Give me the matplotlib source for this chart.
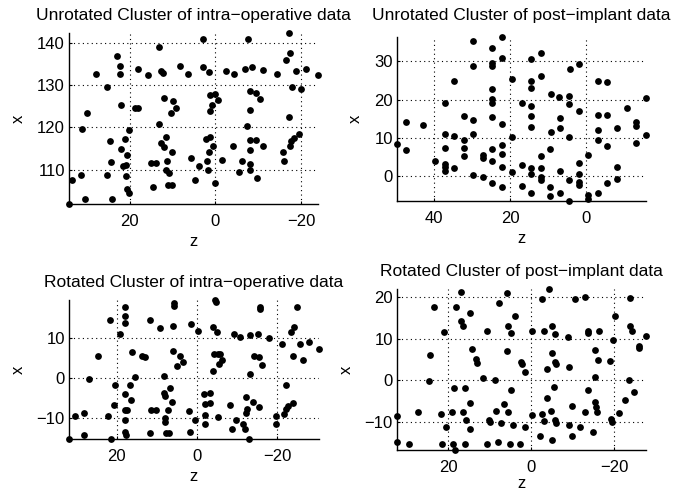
import numpy as np
import matplotlib
matplotlib.use("Agg")
import matplotlib.pyplot as plt

# ----------------------------
# Data (z, x)
# ----------------------------

z_unrot_intra = [34.1, 33.5, 31.2, 31.0, 30.4, 29.8, 27.9, 25.3, 25.2, 24.4, 24.6, 24.0,
                 22.9, 22.2, 22.2, 22.0, 22.1, 21.6, 20.9, 21.1, 20.9, 20.5, 20.5, 20.1,
                 20.1, 18.8, 18.1, 18.1, 15.8, 15.1, 13.9, 14.5, 13.1, 13.1, 12.6, 12.2,
                 12.6, 12.0, 11.9, 11.4, 11.2, 11.4, 10.9, 11.0, 10.1, 10.1, 10.4, 9.8,
                 9.2, 8.2, 6.3, 5.7, 4.8, 3.9, 3.0, 2.9, 2.3, 1.9, 1.7, 1.6,
                 1.3, 1.3, 1.3, 1.5, 0.8, 0.5, 0.2, 0.2, -0.6, -1.6, -2.4, -4.3,
                 -4.0, -5.5, -6.2, -6.8, -7.4, -7.6, -8.0, -8.1, -8.1, -8.1, -8.1, -8.1,
                 -8.5, -9.5, -9.4, -9.8, -10.3, -11.2, -11.1, -14.3, -15.7, -15.9, -16.5, -17.3,
                 -17.1, -17.1, -17.4, -17.7, -17.8, -18.2, -18.8, -19.4, -20.0, -21.2, -23.9]
x_unrot_intra = [101.9, 107.6, 108.8, 119.7, 103.1, 123.3, 132.6, 129.6, 108.8, 111.8, 116.7, 103.1,
                 136.8, 134.4, 132.6, 125.4, 115.0, 110.8, 111.0, 117.3, 108.4, 113.4, 105.4, 104.6,
                 119.5, 124.6, 124.6, 133.9, 132.3, 111.7, 111.7, 105.9, 138.9, 120.7, 133.4, 132.8,
                 116.3, 115.4, 126.9, 117.8, 112.0, 110.0, 109.2, 106.4, 106.4, 114.3, 123.3, 126.2,
                 124.6, 134.5, 132.6, 112.8, 107.6, 110.8, 134.2, 141.0, 117.3, 112.0, 110.0, 133.1,
                 127.6, 123.8, 117.8, 114.3, 125.2, 115.5, 127.8, 106.8, 126.4, 112.2, 133.3, 132.6,
                 115.5, 109.4, 112.0, 133.7, 120.4, 141.0, 124.0, 128.6, 117.1, 114.7, 111.4, 110.0,
                 134.2, 128.2, 117.1, 108.0, 126.8, 133.6, 115.7, 132.5, 114.3, 112.0, 136.0, 137.5,
                 142.3, 122.4, 115.5, 116.7, 129.6, 117.5, 133.3, 118.5, 129.0, 133.9, 132.4]

z_unrot_post = [49.6, 47.2, 47.2, 42.8, 39.7, 37.1, 37.1, 37.1, 37.1, 37.1, 37.1, 34.7,
                34.7, 34.7, 32.1, 32.1, 32.1, 32.1, 29.7, 29.7, 29.7, 29.7, 29.7, 27.0,
                27.0, 27.0, 24.7, 24.7, 24.7, 24.7, 24.7, 24.7, 24.7, 24.7, 24.7, 24.7,
                22.0, 22.0, 22.0, 22.0, 22.0, 22.0, 22.0, 19.6, 19.6, 19.6, 17.0, 17.0,
                17.0, 14.6, 14.6, 14.6, 14.6, 14.6, 14.6, 14.6, 14.6, 14.6, 12.0, 12.0,
                12.0, 12.0, 12.0, 12.0, 9.6, 9.6, 9.6, 9.4, 9.4, 7.2, 7.0, 7.0,
                7.0, 7.0, 4.5, 4.5, 4.5, 4.5, 4.4, 4.5, 1.9, 1.9, 1.9, 1.9,
                1.9, 1.9, -0.5, -0.5, -0.5, -3.1, -3.1, -3.1, -3.1, -3.1, -5.5, -5.5,
                -5.5, -5.5, -8.1, -8.1, -8.1, -10.6, -13.1, -13.1, -13.1, -15.6, -15.6]
x_unrot_post = [8.4, 14.0, 6.8, 13.4, 4.0, 19.2, 11.0, 7.4, 3.1, 2.2, 1.3, 24.9,
                10.5, 2.0, 15.7, 9.4, 7.4, 5.1, 35.3, 28.9, 14.7, 10.9, 0.1, -0.3,
                5.5, 4.6, 33.5, 29.6, 28.7, 22.7, 20.1, 19.2, 15.4, 7.0, 3.8, -1.9,
                36.4, 30.9, 13.6, 8.0, 5.7, 2.2, -3.0, 25.4, 10.3, 0.9, 19.2, 2.9,
                -2.6, 30.6, 24.9, 23.0, 18.2, 15.6, 12.9, 2.0, 0.4, -4.5, 32.2, 26.2,
                5.1, 2.0, -0.3, -1.0, 7.0, -3.0, -5.4, 21.4, 11.4, 20.6, 15.1, 12.5,
                1.3, -4.4, -6.6, 20.8, 18.8, 10.3, 28.0, -1.0, 29.3, 17.1, 3.3, 0.4,
                -1.5, -2.4, 5.5, -5.0, -6.0, 24.8, 16.0, 11.9, 9.4, -4.4, 24.5, 16.0,
                7.9, -1.9, 12.5, 2.2, -0.9, 17.8, 14.0, 13.1, 8.7, 20.4, 10.8]

z_rot_intra = [31.9, 30.4, 28.1, 28.1, 26.8, 24.6, 22.1, 21.7, 21.5, 20.8, 20.4, 19.2,
               17.9, 17.9, 17.9, 17.9, 17.9, 17.9, 17.9, 17.7, 17.5, 16.8, 16.5, 16.3,
               15.4, 13.8, 12.9, 11.7, 11.8, 11.5, 10.2, 9.2, 8.3, 8.3, 7.9, 7.9,
               7.9, 7.7, 7.1, 7.3, 6.8, 6.3, 6.0, 6.0, 5.7, 5.7, 5.0, 4.2,
               3.5, 1.9, 1.4, 1.7, 0.6, -0.3, -1.8, -2.1, -2.1, -2.1, -3.2, -3.2,
               -3.9, -4.0, -4.2, -4.6, -4.8, -5.0, -5.2, -5.2, -5.4, -5.8, -6.3, -8.2,
               -8.8, -9.2, -9.8, -10.8, -11.5, -11.9, -12.3, -12.3, -12.5, -12.9, -13.3, -13.3,
               -14.0, -14.2, -15.2, -15.4, -15.4, -15.7, -15.8, -16.3, -17.9, -19.6, -19.6, -21.1,
               -21.7, -22.1, -22.3, -22.7, -23.3, -23.8, -23.9, -24.2, -24.8, -25.6, -26.3, -27.9,
               -30.4]
x_rot_intra = [-15.2, -9.4, -8.6, -14.2, -0.2, 5.4, -9.4, 14.5, -15.1, -6.7, -1.7, 11.1,
               17.7, 15.5, 13.8, -4.0, -7.9, -10.5, -13.4, -14.1, -7.9, -1.7, -5.4, 6.4,
               0.3, 5.4, 5.3, 14.5, -13.6, -7.9, -7.9, 12.4, 0.6, -3.8, -4.4, -9.9,
               -10.9, -13.6, -13.6, -7.9, -2.5, -5.9, 6.7, 13.0, 18.0, 18.8, 2.9, 5.6,
               3.9, -8.1, 13.6, -13.4, -10.5, 11.7, -3.9, -6.5, -9.2, -11.5, -3.6, -6.3,
               12.7, 1.9, 6.1, 19.5, 19.0, 11.5, -9.6, 6.1, 3.6, 6.1, 4.4, -6.7,
               -12.8, 11.1, -10.5, 10.2, -11.5, -12.7, -4.6, -8.8, -7.8, -15.1, 10.7, 1.0,
               -5.9, 5.6, 11.0, 5.3, -7.1, 17.8, 17.3, 3.3, 10.0, -9.4, -11.5, 8.6,
               -9.0, -7.8, -1.7, -6.9, 11.5, -6.1, 5.4, 12.8, 17.8, 8.6, 4.4, 9.0,
               7.3]

z_rot_post = [32.4, 32.4, 29.6, 27.3, 24.5, 24.6, 23.5, 21.7, 21.5, 21.1, 20.5, 19.1,
              19.0, 18.7, 18.3, 18.2, 16.9, 16.9, 16.5, 16.5, 16.1, 16.1, 15.7, 14.9,
              14.9, 14.7, 14.3, 13.3, 13.0, 11.6, 10.7, 10.7, 10.3, 9.9, 8.7, 8.4,
              8.1, 7.9, 7.3, 6.5, 5.9, 5.7, 5.9, 5.6, 5.2, 4.9, 4.9, 4.4,
              3.9, 2.4, 2.2, 2.7, 1.6, 1.4, -0.2, -0.2, -2.0, -2.6, -2.6, -3.0,
              -3.2, -3.8, -3.8, -4.3, -4.8, -5.0, -5.0, -5.1, -5.4, -5.8, -5.8, -5.9,
              -5.8, -5.9, -8.8, -9.0, -9.0, -9.8, -9.8, -10.6, -11.8, -13.0, -13.0, -13.7,
              -13.8, -13.8, -15.0, -15.3, -15.4, -15.4, -15.6, -15.8, -16.2, -16.4, -19.0, -19.2,
              -19.4, -19.7, -20.2, -21.3, -22.7, -23.6, -23.9, -23.9, -24.4, -24.7, -25.9, -25.9,
              -27.7]
x_rot_post = [-8.6, -14.9, -15.3, -7.7, 6.0, -0.2, 17.5, -8.1, -15.3, 11.5, -11.3, -7.7,
              -15.3, -1.8, -16.8, 17.6, 21.1, 14.3, 13.1, -7.7, -1.8, -15.3, -9.5, 16.1,
              -11.7, -5.4, 7.5, 5.0, 4.2, 0.6, 11.7, -15.3, -9.5, -10.1, 0.0, -7.4,
              -14.9, 18.5, -10.3, -5.8, 21.0, 13.1, 6.9, -7.7, -15.3, 11.3, -2.3, -10.7,
              15.3, 4.4, 3.9, -15.3, -11.3, 2.0, -8.5, 11.7, -13.5, 19.5, -8.1, 11.7,
              -9.8, 2.6, -4.4, 21.9, -7.5, 6.6, 12.9, -14.5, -1.6, 11.0, 4.4, 3.8,
              -9.5, -10.3, 10.3, 3.2, -10.9, -6.3, -13.5, 19.4, -11.3, 19.9, -7.7, 11.7,
              11.3, -2.4, -12.5, -5.2, 7.3, 0.8, -6.5, -7.7, 4.8, 11.9, 4.6, -9.3,
              -10.1, 9.7, 15.5, -7.8, -4.8, 0.0, 19.8, 12.9, 11.9, -2.8, 8.1, 7.7,
              10.6]

titles = ["Unrotated Cluster of intra\u2212operative data",
          "Unrotated Cluster of post\u2212implant data",
          "Rotated Cluster of intra\u2212operative data",
          "Rotated Cluster of post\u2212implant data"]

panels = [(z_unrot_intra, x_unrot_intra, [20, 0, -20], [110, 120, 130, 140]),
          (z_unrot_post, x_unrot_post, [40, 20, 0], [0, 10, 20, 30]),
          (z_rot_intra, x_rot_intra, [20, 0, -20], [-10, 0, 10]),
          (z_rot_post, x_rot_post, [20, 0, -20], [-10, 0, 10, 20])]

# axes boxes in pixels: left, right, top, bottom
boxes = [(69, 318, 33, 204),
         (397, 646, 37, 201),
         (69, 319, 300, 439),
         (397, 646, 289, 450)]
title_pads = [9.5, 12, 9, 9.5]
zlabel_pads = [4, 4, 4, 1]

W, H = 689, 492

plt.rcParams['font.family'] = ['Liberation Sans', 'DejaVu Sans']

fig = plt.figure(figsize=(W/100, H/100), dpi=100)

for (z, x, zt, xt), (l, r, t, b), title, pad, zpad in zip(panels, boxes, titles,
                                                          title_pads, zlabel_pads):

    ax = fig.add_axes([l/W, 1 - b/H, (r - l)/W, (b - t)/H])

    ax.scatter(z, x, s=24, c="k", marker="o", linewidths=0, clip_on=False, zorder=3)

    ax.set_xlim(max(z), min(z))
    ax.set_ylim(min(x), max(x))

    ax.set_xticks(zt)
    ax.set_yticks(xt)

    ax.grid(True, color="k", linestyle=(0, (1, 3)), linewidth=0.8)

    for side in ["top", "right"]:
        ax.spines[side].set_visible(False)
    for side in ["left", "bottom"]:
        ax.spines[side].set_linewidth(1.0)

    ax.tick_params(direction="in", length=2.5, labelsize=12)
    ax.tick_params(axis="x", pad=7)
    ax.tick_params(axis="y", pad=3)

    ax.set_xlabel("z", fontsize=12, labelpad=zpad)
    ax.set_ylabel("x", fontsize=12, labelpad=8)
    ax.set_title(title, fontsize=12.5, pad=pad)

fig.savefig("out.png", dpi=100)
